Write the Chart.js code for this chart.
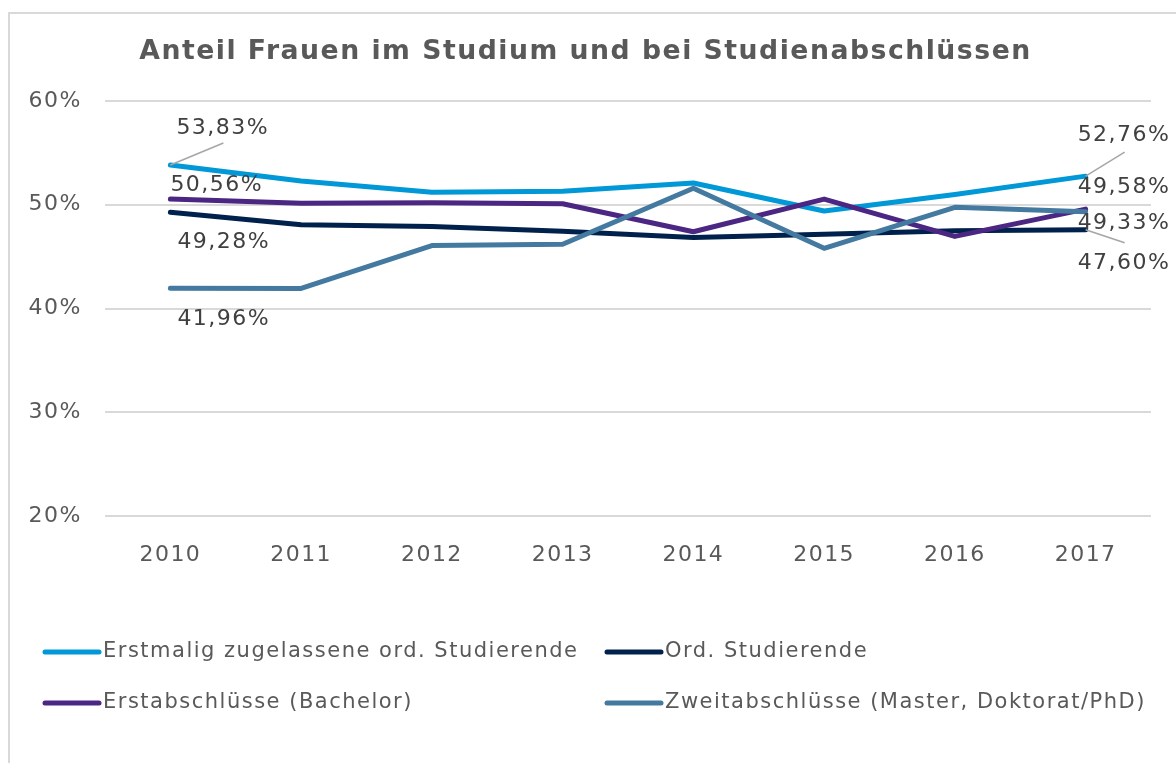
<!DOCTYPE html>
<html>
<head>
<meta charset="utf-8">
<script src="https://cdn.jsdelivr.net/npm/chart.js@4.4.0/dist/chart.umd.min.js"></script>
<style>
  html, body { margin: 0; padding: 0; background: #fff; overflow: hidden; }
  #frame { position: absolute; left: 8px; top: 12px; width: 1200px; height: 800px; border: 2px solid #d9d9d9; }
  #wrap { position: absolute; left: 0; top: 0; width: 1176px; height: 763px; }
</style>
</head>
<body>
<div id="frame"></div>
<div id="wrap"><canvas id="chart" width="1176" height="763"></canvas></div>
<script>
const years = ['2010','2011','2012','2013','2014','2015','2016','2017'];
const erstmalig = [53.83, 52.3, 51.2, 51.3, 52.1, 49.4, 51.0, 52.76];
const ordStud = [49.28, 48.07, 47.9, 47.45, 46.85, 47.15, 47.5, 47.60];
const erstabschluss = [50.56, 50.15, 50.2, 50.1, 47.4, 50.55, 46.95, 49.58];
const zweitabschluss = [41.96, 41.93, 46.07, 46.2, 51.6, 45.8, 49.75, 49.33];
const seriesNames = ['Erstmalig zugelassene ord. Studierende', 'Ord. Studierende', 'Erstabschlüsse (Bachelor)', 'Zweitabschlüsse (Master, Doktorat/PhD)'];
const yTicks = [20, 30, 40, 50, 60];

const colors = ['#0098d6', '#00214b', '#4b2683', '#4479a0'];
const font = 'DejaVu Sans';
const textGray = '#595959';

// label offsets for first / last point: [dx, dy, leaderDx, leaderDy]
const labelPos = [
  { first: [6, -37, 53, -22], last: [-8, -41, 39, -24] },
  { first: [7, 30], last: [-8, 34, 39, 13] },
  { first: [0, -14], last: [-8, -22] },
  { first: [7, 31], last: [-8, 12] }
];
// legend grid: [x, y] of line start
const legendPos = [[45, 652], [607, 652], [45, 703], [607, 703]];

const fmt = v => v.toFixed(2).replace('.', ',') + '%';

const spacing = {
  id: 'spacing',
  beforeLayout(chart) { chart.ctx.letterSpacing = '1.5px'; },
  beforeDraw(chart) { chart.ctx.letterSpacing = '1.5px'; }
};

const endLabels = {
  id: 'endLabels',
  afterDatasetsDraw(chart) {
    const ctx = chart.ctx;
    ctx.save();
    ctx.font = '22px "' + font + '"';
    ctx.fillStyle = '#404040';
    ctx.textBaseline = 'middle';
    ctx.textAlign = 'left';
    chart.data.datasets.forEach((ds, i) => {
      const meta = chart.getDatasetMeta(i);
      const ends = [['first', 0], ['last', ds.data.length - 1]];
      ends.forEach(([k, idx]) => {
        const pt = meta.data[idx];
        const p = labelPos[i][k];
        if (p.length > 2) {
          ctx.strokeStyle = '#a6a6a6';
          ctx.lineWidth = 1.5;
          ctx.beginPath();
          ctx.moveTo(pt.x, pt.y);
          ctx.lineTo(pt.x + p[2], pt.y + p[3]);
          ctx.stroke();
        }
        ctx.fillText(fmt(ds.data[idx]), pt.x + p[0], pt.y + p[1]);
      });
    });
    ctx.restore();
  }
};

const gridLegend = {
  id: 'gridLegend',
  afterDraw(chart) {
    const ctx = chart.ctx;
    ctx.save();
    ctx.font = '21px "' + font + '"';
    ctx.textBaseline = 'middle';
    ctx.textAlign = 'left';
    chart.data.datasets.forEach((ds, i) => {
      const [x, y] = legendPos[i];
      ctx.strokeStyle = ds.borderColor;
      ctx.lineWidth = 5;
      ctx.lineCap = 'round';
      ctx.beginPath();
      ctx.moveTo(x, y);
      ctx.lineTo(x + 54, y);
      ctx.stroke();
      ctx.fillStyle = textGray;
      ctx.fillText(ds.label, x + 58, y);
    });
    ctx.restore();
  }
};

const allSeries = [erstmalig, ordStud, erstabschluss, zweitabschluss];

new Chart(document.getElementById('chart'), {
  type: 'line',
  data: {
    labels: years,
    datasets: allSeries.map((d, i) => ({
      label: seriesNames[i],
      data: d,
      borderColor: colors[i],
      backgroundColor: colors[i],
      borderWidth: 5,
      pointRadius: 0,
      tension: 0,
      borderCapStyle: 'round',
      borderJoinStyle: 'round',
      order: 3 - i
    }))
  },
  options: {
    responsive: false,
    animation: false,
    layout: { padding: { top: 12, left: 20, right: 25, bottom: 187 } },
    plugins: {
      legend: { display: false },
      tooltip: { enabled: false },
      title: {
        display: true,
        text: 'Anteil Frauen im Studium und bei Studienabschlüssen',
        color: textGray,
        font: { family: font, size: 26.7, weight: 'bold' },
        padding: { top: 24, bottom: 33 }
      }
    },
    scales: {
      x: {
        offset: true,
        grid: { display: false },
        border: { display: false },
        ticks: { color: textGray, font: { family: font, size: 22 }, padding: 18 },
        afterFit: s => { s.height = 60; }
      },
      y: {
        min: 20,
        max: 60,
        afterBuildTicks: s => { s.ticks = yTicks.map(v => ({ value: v })); },
        ticks: { color: textGray, font: { family: font, size: 22 }, padding: 23, callback: v => v + '%' },
        grid: { color: '#d9d9d9', lineWidth: 2, drawTicks: false },
        border: { display: false },
        afterFit: s => { s.width = 85; }
      }
    }
  },
  plugins: [spacing, endLabels, gridLegend]
});
</script>
</body>
</html>
